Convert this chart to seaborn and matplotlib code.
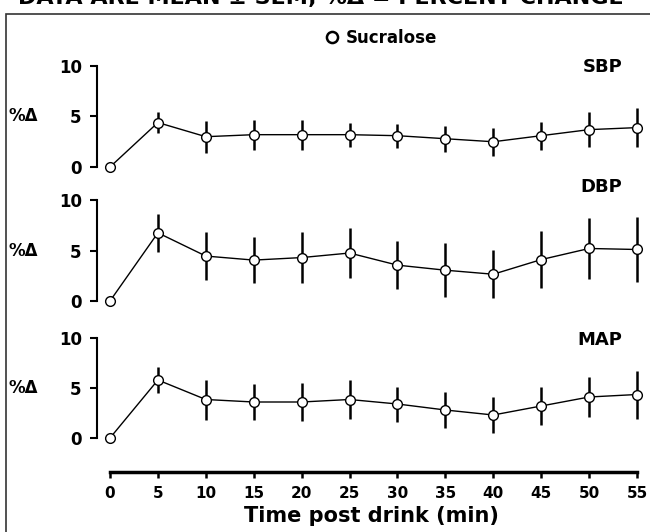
import matplotlib
matplotlib.use("Agg")
import matplotlib.pyplot as plt
from matplotlib.lines import Line2D
from matplotlib.patches import Rectangle
import pandas as pd
import seaborn as sns

# Data (mean and SEM, % change from baseline)
time_min = [0, 5, 10, 15, 20, 25, 30, 35, 40, 45, 50, 55]

sbp_mean = [0.0, 4.4, 3.0, 3.2, 3.2, 3.2, 3.1, 2.8, 2.5, 3.1, 3.7, 3.9]
sbp_sem = [0.0, 1.0, 1.6, 1.5, 1.5, 1.2, 1.2, 1.3, 1.4, 1.4, 1.7, 1.9]

dbp_mean = [0.0, 6.75, 4.45, 4.05, 4.3, 4.75, 3.55, 3.05, 2.65, 4.1, 5.2, 5.1]
dbp_sem = [0.0, 1.9, 2.4, 2.3, 2.5, 2.5, 2.4, 2.7, 2.4, 2.8, 3.0, 3.2]

map_mean = [0.0, 5.8, 3.85, 3.6, 3.6, 3.85, 3.4, 2.8, 2.3, 3.2, 4.1, 4.35]
map_sem = [0.0, 1.3, 2.0, 1.8, 1.9, 1.95, 1.75, 1.8, 1.8, 1.9, 2.0, 2.4]

panel_names = ["SBP", "DBP", "MAP"]
y_ticks = [0, 5, 10]
x_ticks = [0, 5, 10, 15, 20, 25, 30, 35, 40, 45, 50, 55]

sns.set_style("white")
plt.rcParams["font.family"] = ["DejaVu Sans"]
plt.rcParams["font.weight"] = "bold"
for key in ["text.color", "axes.labelcolor", "xtick.color", "ytick.color"]:
    plt.rcParams[key] = "black"

W, H = 650, 532
fig = plt.figure(figsize=(W / 100, H / 100), dpi=100)

def px_rect(left, top, right, bottom):
    return [left / W, 1 - bottom / H, (right - left) / W, (bottom - top) / H]

# pixel positions of y=0 and y=10 for each panel
panel_px = [(167, 66), (301, 200), (438, 338)]
series = [(sbp_mean, sbp_sem), (dbp_mean, dbp_sem), (map_mean, map_sem)]
label_y = [67, 187, 340]

x_left_px, x_right_px = 97, 645
px_per_min = (637 - 110) / 55
xlim = (-(110 - x_left_px) / px_per_min, 55 + (x_right_px - 637) / px_per_min)

axes = []
for i, name in enumerate(panel_names):
    y0, y10 = panel_px[i]
    ppu = (y0 - y10) / 10
    ax = fig.add_axes(px_rect(x_left_px, y10 - ppu, x_right_px, y0 + ppu))
    mean, sem = series[i]
    df = pd.DataFrame({"time": time_min, "pct": mean})

    ax.errorbar(time_min, mean, yerr=sem, fmt="none", ecolor="black",
                elinewidth=1.8, capsize=0, zorder=2)
    sns.lineplot(data=df, x="time", y="pct", ax=ax, color="black", linewidth=1,
                 marker="o", markersize=7, markerfacecolor="white",
                 markeredgecolor="black", markeredgewidth=1, zorder=3)

    ax.set_xlim(*xlim)
    ax.set_ylim(-1, 11)
    ax.set_yticks(y_ticks)
    ax.set_yticklabels([str(t) for t in y_ticks], fontsize=12, fontweight="bold")
    ax.spines["left"].set_bounds(0, 10)
    ax.spines["left"].set_linewidth(1.5)
    ax.spines["left"].set_color("black")
    ax.spines["top"].set_visible(False)
    ax.spines["right"].set_visible(False)
    ax.tick_params(axis="y", direction="out", length=5, width=1.5, pad=6,
                   left=True, colors="black")
    ax.set_ylabel("")
    ax.text(-0.135, 5, "%\u0394", transform=ax.get_yaxis_transform(),
            ha="center", va="center", fontsize=12, fontweight="bold")
    ax.text(622 / W, 1 - label_y[i] / H, name, transform=fig.transFigure,
            ha="right", va="center", fontsize=13, fontweight="bold")

    if i < 2:
        ax.spines["bottom"].set_visible(False)
        ax.set_xticks([])
        ax.set_xlabel("")
    else:
        ax.spines["bottom"].set_position(("outward", 17.3))
        ax.spines["bottom"].set_bounds(0, 55)
        ax.spines["bottom"].set_linewidth(2.5)
        ax.spines["bottom"].set_color("black")
        ax.set_xticks(x_ticks)
        ax.set_xticklabels([str(t) for t in x_ticks], fontsize=11, fontweight="bold")
        ax.tick_params(axis="x", direction="out", length=4, width=1.8, pad=6,
                       bottom=True, colors="black")
        ax.set_xlabel("Time post drink (min)", fontsize=15, fontweight="bold",
                      labelpad=4)
    axes.append(ax)

# legend
handle = Line2D([], [], marker="o", linestyle="none", markersize=8,
                markerfacecolor="white", markeredgecolor="black", markeredgewidth=1.8)
fig.legend(handles=[handle], labels=["Sucralose"], loc="center",
           bbox_to_anchor=(382 / W, 1 - 38 / H), frameon=False,
           handlelength=0.6, handletextpad=0.5,
           prop={"size": 12, "weight": "bold"})

# outer frame and the caption that the original cuts off at the top edge
fig.patches.append(Rectangle((6 / W, -0.05), 1.0, 1 - 14 / H + 0.05,
                             transform=fig.transFigure, fill=False,
                             edgecolor="#333333", linewidth=1.2))
fig.text(18 / W, 1 - 4 / H, "DATA ARE MEAN \u00b1 SEM; %\u0394 = PERCENT CHANGE",
         ha="left", va="baseline", fontsize=16, fontweight="bold")

fig.savefig("out.png", dpi=100)
